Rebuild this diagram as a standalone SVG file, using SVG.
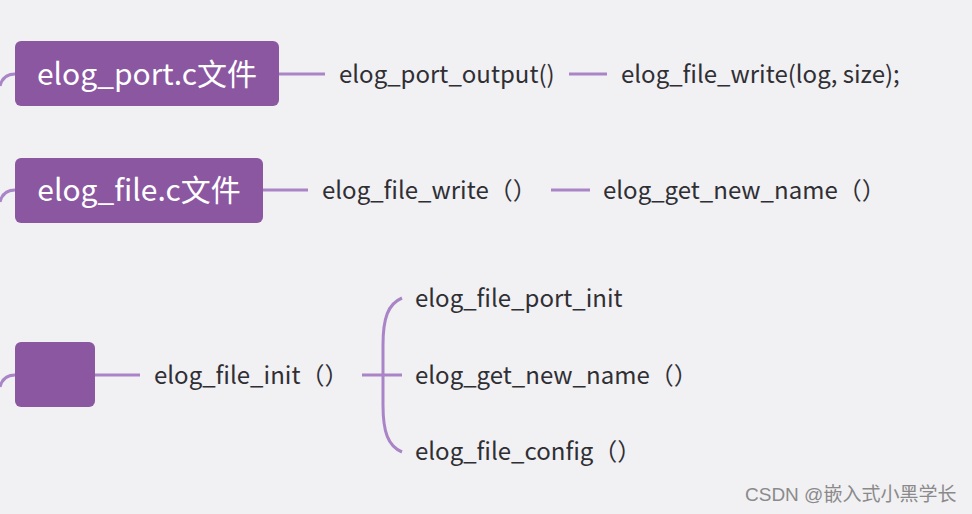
<svg xmlns="http://www.w3.org/2000/svg" width="972" height="514" viewBox="0 0 972 514">
<style>
.bg{fill:#f1f0f3}
.box{fill:#8b57a1}
.title{font-family:"Noto Sans CJK SC","Noto Sans",sans-serif;font-size:30px;fill:#ffffff}
.lbl{font-family:"Noto Sans CJK SC","Noto Sans",sans-serif;font-size:24px;fill:#2f2f33}
.ln{stroke:#a984c6;stroke-width:3;fill:none;stroke-linecap:butt}
.wm{font-family:"Liberation Sans","Noto Sans CJK SC",sans-serif;font-size:19px;fill:#8a8a8a}
</style>
<rect class="bg" x="0" y="0" width="972" height="514"/>
<g id="connectors">
<path class="ln" d="M0,86 Q3,74 15,74"/>
<path class="ln" d="M0,202 Q3,190 15,190"/>
<path class="ln" d="M0,387 Q3,375 15,375"/>
<line class="ln" x1="279" y1="74" x2="325" y2="74"/>
<line class="ln" x1="569" y1="74" x2="607" y2="74"/>
<line class="ln" x1="263" y1="190" x2="308" y2="190"/>
<line class="ln" x1="551" y1="190" x2="590" y2="190"/>
<line class="ln" x1="95" y1="375" x2="140" y2="375"/>
<line class="ln" x1="362" y1="375" x2="402" y2="375"/>
<path class="ln" d="M402,298 C388,304 383,318 383,345 L383,405 C383,432 388,446 402,452"/>
</g>
<g id="node-port">
<rect class="box" x="15" y="41" width="264" height="65" rx="6"/>
<text class="title" x="147" y="85" text-anchor="middle">elog_port.c文件</text>
</g>
<g id="node-port-output">
<text class="lbl" x="339" y="83">elog_port_output()</text>
</g>
<g id="node-file-write-1">
<text class="lbl" x="621" y="83">elog_file_write(log, size);</text>
</g>
<g id="node-file">
<rect class="box" x="15" y="158" width="248" height="65" rx="6"/>
<text class="title" x="139" y="201" text-anchor="middle">elog_file.c文件</text>
</g>
<g id="node-file-write-2">
<text class="lbl" x="322" y="199">elog_file_write（）</text>
</g>
<g id="node-get-new-name-1">
<text class="lbl" x="603" y="199">elog_get_new_name（）</text>
</g>
<g id="node-empty">
<rect class="box" x="15" y="342" width="80" height="65" rx="6"/>
</g>
<g id="node-file-init">
<text class="lbl" x="154" y="384">elog_file_init（）</text>
</g>
<g id="node-file-port-init">
<text class="lbl" x="415" y="307">elog_file_port_init</text>
</g>
<g id="node-get-new-name-2">
<text class="lbl" x="415" y="384">elog_get_new_name（）</text>
</g>
<g id="node-file-config">
<text class="lbl" x="415" y="460">elog_file_config（）</text>
</g>
<text class="wm" x="745" y="501">CSDN @嵌入式小黑学长</text>
</svg>
